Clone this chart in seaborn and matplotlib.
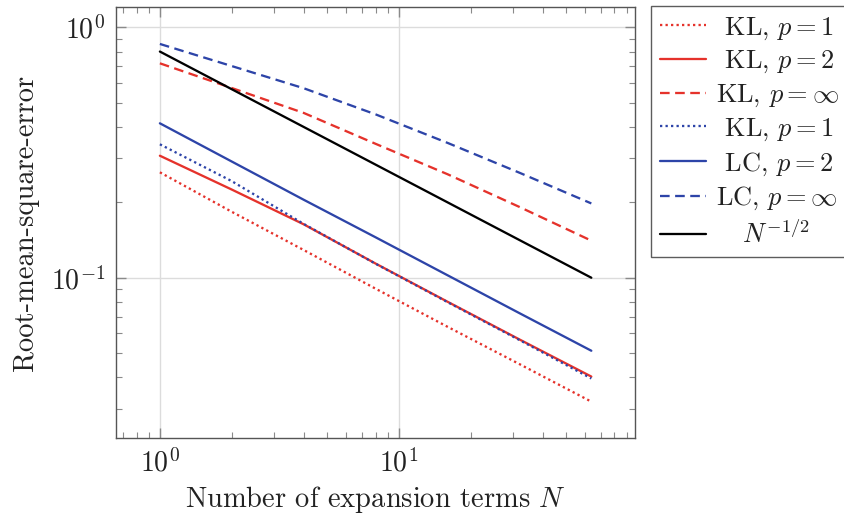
import numpy as np
import pandas as pd
import matplotlib
matplotlib.use("Agg")
import matplotlib.pyplot as plt
import seaborn as sns

# ---- data ----
N = [1, 2, 4, 8, 16, 32, 64]
kl_p1 = [0.2636, 0.1833, 0.129, 0.0904, 0.0637, 0.0452, 0.0320]
kl_p2 = [0.307, 0.2249, 0.1634, 0.1139, 0.0802, 0.0567, 0.0403]
kl_pinf = [0.718, 0.572, 0.455, 0.3425, 0.259, 0.1917, 0.1406]
kl_p1_blue = [0.341, 0.243, 0.164, 0.1137, 0.0799, 0.0564, 0.0396]
lc_p2 = [0.4136, 0.291, 0.2048, 0.145, 0.1023, 0.0722, 0.0511]
lc_pinf = [0.858, 0.700, 0.571, 0.449, 0.3455, 0.2626, 0.198]
ref = [0.8 / np.sqrt(n) for n in N]

labels = [" KL, $p=1$", " KL, $p=2$", "KL, $p=\\infty$", " KL, $p=1$",
          " LC, $p=2$", "LC, $p=\\infty$", "   $N^{-1/2}$"]
series = [kl_p1, kl_p2, kl_pinf, kl_p1_blue, lc_p2, lc_pinf, ref]

RED = "#e5322b"
BLUE = "#2d44a8"
colors = [RED, RED, RED, BLUE, BLUE, BLUE, "black"]
dotted = (0, (1, 1.4))
dashed = (0, (4.2, 2.4))
styles = [dotted, "-", dashed, dotted, "-", dashed, "-"]

sns.set_style("white")
plt.rcParams.update({
    "font.family": "serif",
    "font.serif": ["cmr10", "DejaVu Serif"],
    "mathtext.fontset": "cm",
    "axes.formatter.use_mathtext": True,
    "axes.unicode_minus": False,
})

fig = plt.figure(figsize=(8.45, 5.17), dpi=100)
ax = fig.add_axes([116 / 845, 1 - 438 / 517, (635 - 116) / 845, (438 - 7) / 517])

handles = []
for s, lab, c, ls in zip(series, labels, colors, styles):
    df = pd.DataFrame({"N": N, "rmse": s})
    sns.lineplot(data=df, x="N", y="rmse", ax=ax, color=c, lw=1.65, label=lab)
    line = ax.get_lines()[-1]
    line.set_linestyle(ls)
    handles.append(line)

ax.set_xscale("log")
ax.set_yscale("log")
ax.set_xlim(0.655, 97.5)
ax.set_ylim(10 ** -1.64, 10 ** 0.081)

ax.grid(True, which="major", color="#dcdcdc", lw=1.0)
ax.tick_params(which="both", direction="in", top=True, right=True, bottom=True, left=True,
               colors="#8a8a8a", labelcolor="#222222", labelsize=20, pad=8)
ax.tick_params(which="major", length=7, width=1)
ax.tick_params(which="minor", length=4, width=0.8)
for sp in ax.spines.values():
    sp.set_color("#555555")
    sp.set_linewidth(1.0)

ax.set_xlabel("Number of expansion terms $N$", fontsize=20.5, color="#222222", labelpad=4)
ax.set_ylabel("Root-mean-square-error", fontsize=20.5, color="#222222", labelpad=8)

leg = ax.legend(handles=handles, labels=labels, loc="upper left",
                bbox_to_anchor=(651 / 845, 1 - 6 / 517), bbox_transform=fig.transFigure,
                borderaxespad=0, fontsize=19, frameon=True, fancybox=False,
                edgecolor="#333333", handlelength=1.75, handletextpad=0.35,
                labelspacing=0.28, borderpad=0.35)
leg.get_frame().set_linewidth(1.0)
for t in leg.get_texts():
    t.set_color("#222222")

fig.savefig("out.png", dpi=100)
